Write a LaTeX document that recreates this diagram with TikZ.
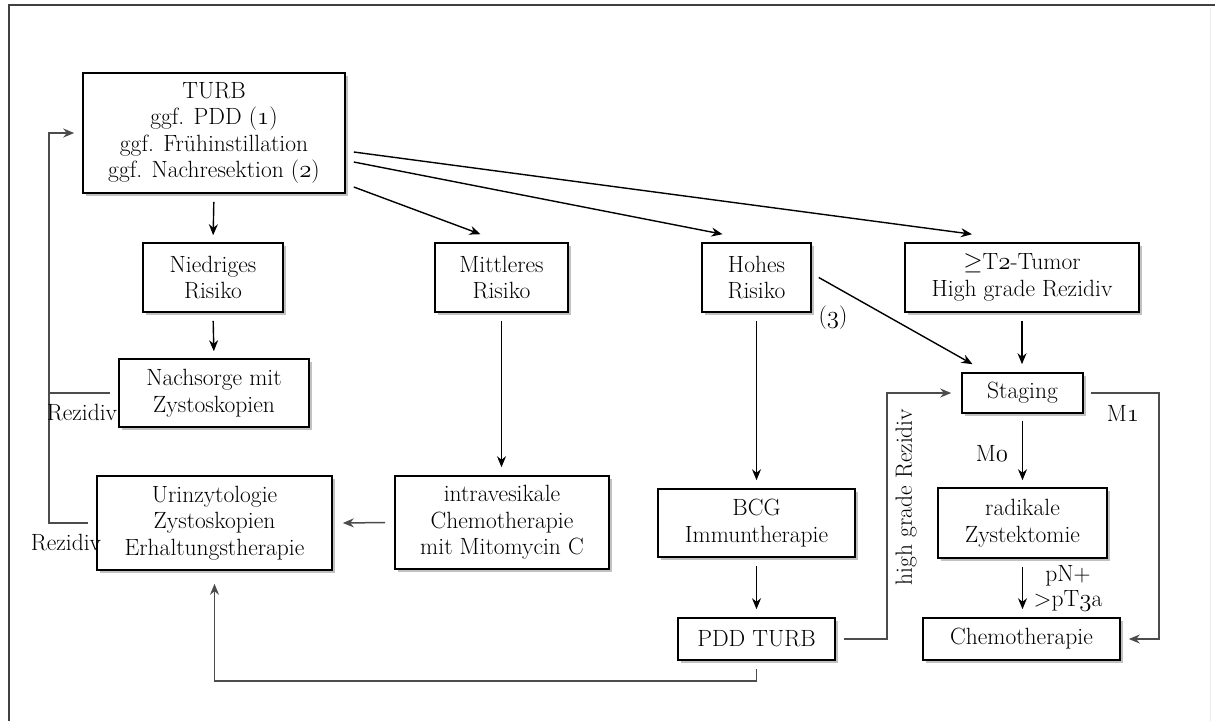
\documentclass[tikz,border=0pt]{standalone}
\usepackage{fontspec}
\usetikzlibrary{arrows.meta,shadows,calc}
\tikzset{
  box/.style={draw=black, line width=1.6pt, fill=white, align=center, inner sep=2pt,
    drop shadow={shadow xshift=3pt, shadow yshift=-3pt, fill=black!40, opacity=0.6},
    font=\fontsize{23.5}{26.5}\selectfont},
  conn/.style={line width=1.4pt, draw=black, -{Stealth[length=11pt,width=9pt]}},
  grayconn/.style={line width=1.5pt, draw=black!70, -{Stealth[length=11pt,width=9pt]}},
  plain/.style={line width=1.5pt, draw=black!70},
  lbl/.style={font=\fontsize{23.5}{25}\selectfont, inner sep=1pt, align=center},
}
\newcommand{\osn}[1]{{\usefont{OML}{cmm}{m}{it}#1}}
\begin{document}
\begin{tikzpicture}[x=1pt, y=-1pt]
\useasboundingbox (0,0) rectangle (1215,721);
\fill[white] (0,0) rectangle (1215,721);
% frame
\draw[line width=2.5pt, black!75] (9,721) -- (9,5) -- (1215,5);
\draw[line width=1pt, black!8] (1210,8) -- (1210,721);

% nodes
\node[box, minimum width=262pt, minimum height=120pt] (turb) at (214,133)
  {TURB\\ggf. PDD (\osn{1})\\ggf. Frühinstillation\\ggf. Nachresektion (\osn{2})};
\node[box, minimum width=140pt, minimum height=69pt] (nied) at (213,277.5) {Niedriges\\Risiko};
\node[box, minimum width=190pt, minimum height=68pt] (nach) at (214,393) {Nachsorge mit\\Zystoskopien};
\node[box, minimum width=235pt, minimum height=94pt] (urin) at (214.5,523)
  {Urinzytologie\\Zystoskopien\\Erhaltungstherapie};
\node[box, minimum width=133pt, minimum height=69pt] (mitt) at (501.5,277.5) {Mittleres\\Risiko};
\node[box, minimum width=109pt, minimum height=69pt] (hoh) at (756.5,277.5) {Hohes\\Risiko};
\node[box, minimum width=234pt, minimum height=69pt] (t2) at (1022,277.5)
  {$\geq$T\osn{2}-Tumor\\High grade Rezidiv};
\node[box, minimum width=121pt, minimum height=40pt] (stag) at (1022.5,393) {Staging};
\node[box, minimum width=214pt, minimum height=93pt] (intra) at (502,522.5)
  {intravesikale\\Chemotherapie\\mit Mitomycin C};
\node[box, minimum width=197pt, minimum height=68pt] (bcg) at (756.5,523) {BCG\\Immuntherapie};
\node[box, minimum width=157pt, minimum height=42pt] (pdd) at (756.5,639) {PDD TURB};
\node[box, minimum width=169pt, minimum height=70pt] (radi) at (1022.5,523) {radikale\\Zystektomie};
\node[box, minimum width=197pt, minimum height=42pt] (chemo) at (1021.5,639) {Chemotherapie};

% straight vertical connectors
\draw[conn, shorten <=8pt, shorten >=7pt] (turb.south) -- (nied.north);
\draw[conn, shorten <=8pt, shorten >=7pt] (nied.south) -- (nach.north);
\draw[conn, shorten <=8pt, shorten >=8pt] (mitt.south) -- (mitt.south |- intra.north);
\draw[conn, shorten <=8pt, shorten >=8pt] (hoh.south) -- (hoh.south |- bcg.north);
\draw[conn, shorten <=8pt, shorten >=8pt] (bcg.south) -- (pdd.north);
\draw[conn, shorten <=8pt, shorten >=8pt] (t2.south) -- (t2.south |- stag.north);
\draw[conn, shorten <=7pt, shorten >=7pt] (stag.south) -- (stag.south |- radi.north);
\draw[conn, shorten <=8pt, shorten >=8pt] (radi.south) -- (radi.south |- chemo.north);

% diagonal connectors from TURB
\draw[conn] ($(turb.east)+(8,19)$) -- ($(t2.north)+(-50,-8)$);
\draw[conn] ($(turb.east)+(8,29)$) -- ($(hoh.north)+(-34,-8)$);
\draw[conn] ($(turb.east)+(8,54)$) -- ($(mitt.north)+(-21,-8)$);
\draw[conn] ($(hoh.east)+(7,0)$) -- ($(stag.north)+(-50,-8)$);

% horizontal
\draw[grayconn] ($(intra.west)+(-9,0)$) -- ($(urin.east)+(10,0)$);

% feedback to TURB
\draw[grayconn] ($(urin.west)+(-8,0)$) -- ++(-39,0) |- ($(turb.west)+(-8,0)$);
\draw[plain] ($(nach.west)+(-8,0)$) -- ++(-61,0);

% PDD TURB -> Urinzytologie
\draw[grayconn] ($(pdd.south)+(0,8)$) -- ++(0,12) -| ($(urin.south)+(0,13)$);
% PDD TURB -> Staging
\draw[grayconn] ($(pdd.east)+(8,0)$) -- ++(43,0) |- ($(stag.west)+(-10,0)$);
% Staging -> Chemotherapie (M1)
\draw[grayconn] ($(stag.east)+(7,0)$) -- ++(68,0) |- ($(chemo.east)+(8,0)$);

% labels
\node[lbl] (l3) at (833,318) {(\osn{3})};
\node[lbl] (lrez1) at (82,413) {Rezidiv};
\node[lbl] (lrez2) at (66,543) {Rezidiv};
\node[lbl] (lm0) at (992,453) {M\osn{0}};
\node[lbl] (lm1) at (1123,413) {M\osn{1}};
\node[lbl] (lpn) at (1068,588) {pN+\\>pT\osn{3}a};
\node[lbl, rotate=90] (lhg) at (906,497) {high grade Rezidiv};
\end{tikzpicture}
\end{document}
